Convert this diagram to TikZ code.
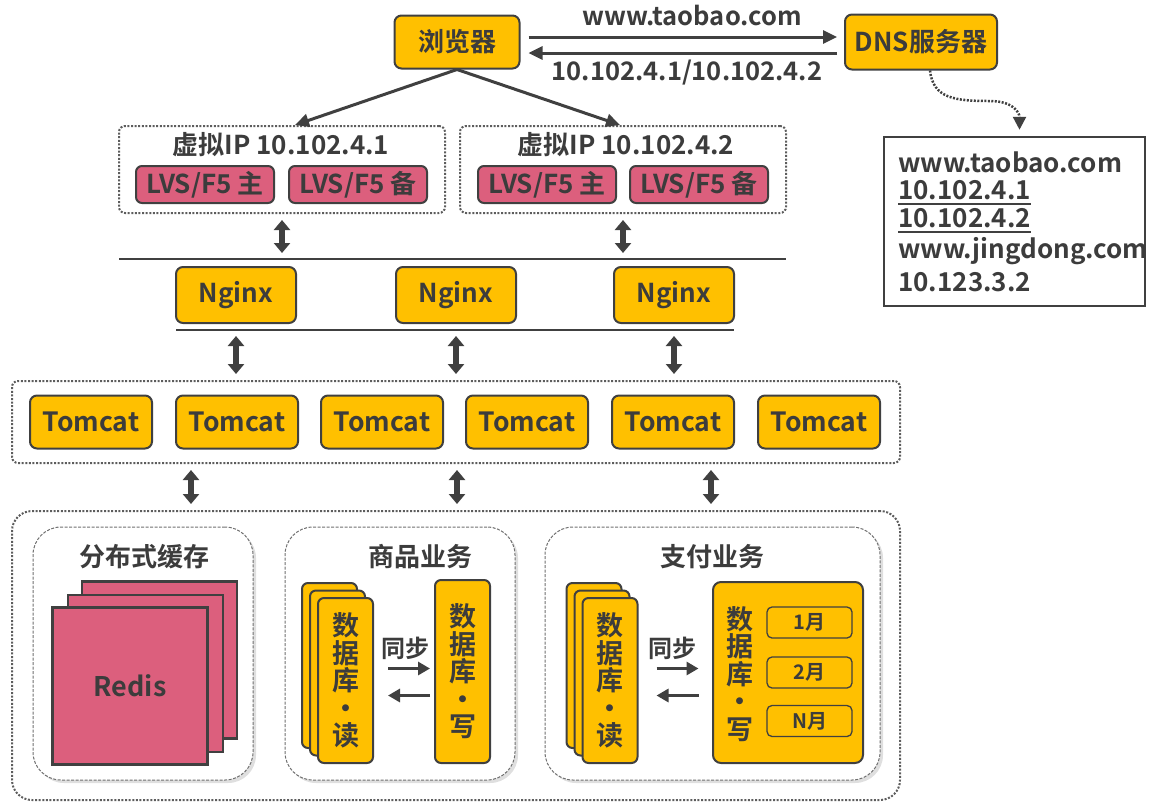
\documentclass[tikz,border=0pt]{standalone}
\usepackage{fontspec}
\setmainfont{Noto Sans CJK SC}[BoldFont={Noto Sans CJK SC Bold}]
\usetikzlibrary{arrows.meta, positioning, calc, shadows}
\definecolor{BoxYellow}{HTML}{FFC000}
\definecolor{BoxPink}{HTML}{DC5F7D}
\definecolor{LineGray}{HTML}{404040}
\definecolor{TextGray}{HTML}{3C3C3C}
\newcommand{\fsz}[1]{\fontsize{#1}{#1}\selectfont}
\tikzset{
    % Boxes
    yellowbox/.style={
        rectangle,
        rounded corners=7pt,
        draw=LineGray,
        fill=BoxYellow,
        line width=2pt,
        inner sep=0pt,
        align=center,
        text=TextGray
    },
    pinkbox/.style={
        rectangle,
        rounded corners=6pt,
        draw=LineGray,
        fill=BoxPink,
        line width=2pt,
        inner sep=0pt,
        minimum width=138pt,
        minimum height=37pt,
        font=\bfseries\fsz{26},
        text=TextGray
    },
    redis/.style={
        rectangle,
        draw=LineGray,
        fill=BoxPink,
        line width=2.5pt,
        inner sep=0pt,
        minimum width=155pt,
        minimum height=157pt,
        text=TextGray
    },
    monthbox/.style={
        rectangle,
        rounded corners=5pt,
        draw=LineGray,
        fill=BoxYellow,
        line width=1.3pt,
        inner sep=0pt,
        minimum width=85pt,
        minimum height=31pt,
        font=\bfseries\fsz{20},
        text=TextGray
    },
    % Groups
    group/.style={
        rectangle,
        rounded corners=6pt,
        draw=LineGray!85,
        line width=2pt,
        dash pattern=on 2pt off 1.6pt,
        inner sep=0pt
    },
    panel/.style={
        rectangle,
        rounded corners=28pt,
        draw=LineGray!75,
        fill=white,
        line width=1pt,
        dash pattern=on 3pt off 1.5pt,
        inner sep=0pt,
        drop shadow={shadow xshift=3pt, shadow yshift=-3pt, opacity=0.25}
    },
    label/.style={
        font=\bfseries\fsz{26},
        text=TextGray,
        inner sep=0pt
    },
    vtext/.style={
        font=\bfseries\fontsize{27}{27.5}\selectfont
    },
    % Arrows
    arrow/.style={
        -{Triangle[length=14pt, width=13pt]},
        line width=3pt,
        draw=LineGray
    },
    syncarrow/.style={
        -{Triangle[length=12pt, width=13pt]},
        line width=3.5pt,
        draw=LineGray
    },
    dblarrow/.style={
        {Triangle[length=10pt, width=16pt]}-{Triangle[length=10pt, width=16pt]},
        line width=5.5pt,
        draw=LineGray,
        shorten <=6pt,
        shorten >=6pt
    },
    dotarrow/.style={
        -{Triangle[length=13pt, width=13pt]},
        line width=2.5pt,
        draw=LineGray,
        dash pattern=on 2pt off 1.5pt
    },
    busline/.style={
        line width=2.5pt,
        draw=LineGray
    }
}

\begin{document}
\begin{tikzpicture}[x=1pt, y=-1pt]
    \useasboundingbox (0,0) rectangle (1166,807);

    % browser and DNS
    \node[yellowbox, minimum width=125pt, minimum height=53pt, font=\bfseries\fsz{26}] (browser) at (457,42) {浏览器};
    \node[yellowbox, minimum width=152pt, minimum height=55pt, font=\bfseries\fsz{26}] (dns) at (921,42) {DNS服务器};
    \draw[arrow] ([xshift=8pt, yshift=5pt]browser.east) -- ([xshift=-7pt, yshift=5pt]dns.west);
    \draw[arrow] ([xshift=-7pt, yshift=-11pt]dns.west) -- ([xshift=8pt, yshift=-11pt]browser.east);
    \node[label, font=\bfseries\fsz{25.5}] (url) at (692,15) {www.taobao.com};
    \node[label, font=\bfseries\fsz{25.5}] (ips) at (687,73) {10.102.4.1/10.102.4.2};

    % DNS table
    \node[draw=LineGray, line width=2.5pt, minimum width=261pt, minimum height=169pt, inner sep=0pt] (dnstab) at (1014.5,221.5) {};
    \node[label, anchor=west] (r1) at (898,162) {www.taobao.com};
    \node[label, anchor=west, inner ysep=4pt] (r2) at (898,190) {10.102.4.1};
    \node[label, anchor=west, inner ysep=4pt] (r3) at (898,218) {10.102.4.2};
    \node[label, anchor=west] (r4) at (898,251) {www.jingdong.com};
    \node[label, anchor=west] (r5) at (898,282) {10.123.3.2};
    \draw[line width=1.5pt, draw=LineGray] (r2.south west) -- (r2.south east);
    \draw[line width=1.5pt, draw=LineGray] (r3.south west) -- (r3.south east);
    \coordinate (bend) at (990,101);
    \draw[dotarrow] ([xshift=9pt]dns.south) .. controls +(3,28) and +(-35,0) .. (bend)
        .. controls +(22,0) and +(0,-18) .. ([xshift=5pt, yshift=6pt]dnstab.north);

    % virtual IP groups
    \node[group, minimum width=326pt, minimum height=87pt] (vip1) at (282,169.5) {};
    \node[group, minimum width=326pt, minimum height=87pt] (vip2) at (623,169.5) {};
    \node[label] (vip1t) at (281,145) {虚拟IP 10.102.4.1};
    \node[label] (vip2t) at (626,145) {虚拟IP 10.102.4.2};
    \node[pinkbox] (lvs1) at (205,184.5) {LVS/F5 主};
    \node[pinkbox] (lvs2) at (358,184.5) {LVS/F5 备};
    \node[pinkbox] (lvs3) at (547,184.5) {LVS/F5 主};
    \node[pinkbox] (lvs4) at (699,184.5) {LVS/F5 备};
    \draw[arrow] (browser.south) -- ([xshift=13pt]vip1.north);
    \draw[arrow] (browser.south) -- ([xshift=-3pt]vip2.north);

    % nginx layer
    \coordinate (busL) at (119,259);
    \coordinate (busR) at (786,259);
    \draw[busline] (busL) -- (busR);
    \draw[dblarrow] (vip1.south) -- (vip1.south |- busL);
    \draw[dblarrow] (vip2.south) -- (vip2.south |- busL);
    \node[yellowbox, minimum width=120pt, minimum height=56pt, font=\bfseries\fsz{26}] (ngx1) at (236,295) {Nginx};
    \node[yellowbox, minimum width=120pt, minimum height=56pt, font=\bfseries\fsz{26}] (ngx2) at (456,295) {Nginx};
    \node[yellowbox, minimum width=120pt, minimum height=56pt, font=\bfseries\fsz{26}] (ngx3) at (674,295) {Nginx};
    \coordinate (bus2L) at (176,330);
    \coordinate (bus2R) at (734,330);
    \draw[busline] (bus2L) -- (bus2R);

    % tomcat layer
    \node[group, minimum width=888pt, minimum height=82pt] (tcgroup) at (456,422) {};
    \foreach \i/\x in {1/91,2/237,3/382,4/527,5/673,6/819}
        \node[yellowbox, minimum width=122pt, minimum height=53pt, font=\bfseries\fsz{26.5}] (tc\i) at (\x,422) {Tomcat};
    \draw[dblarrow] (ngx1.south |- bus2L) -- (ngx1.south |- tcgroup.north);
    \draw[dblarrow] (ngx2.south |- bus2L) -- (ngx2.south |- tcgroup.north);
    \draw[dblarrow] (ngx3.south |- bus2L) -- (ngx3.south |- tcgroup.north);

    % storage layer
    \node[group, rounded corners=20pt, minimum width=888pt, minimum height=289pt] (store) at (456,655.5) {};
    \coordinate (d1) at (191,490);
    \coordinate (d2) at (457,490);
    \coordinate (d3) at (711,490);
    \draw[dblarrow] (d1 |- tcgroup.south) -- (d1 |- store.north);
    \draw[dblarrow] (d2 |- tcgroup.south) -- (d2 |- store.north);
    \draw[dblarrow] (d3 |- tcgroup.south) -- (d3 |- store.north);

    \node[panel, minimum width=220pt, minimum height=253pt] (cache) at (143,653.5) {};
    \node[panel, minimum width=230pt, minimum height=253pt] (goods) at (400,653.5) {};
    \node[panel, minimum width=335pt, minimum height=253pt] (pay) at (712.5,653.5) {};
    \node[label] (cachet) at (144,557) {分布式缓存};
    \node[label] (goodst) at (420,557) {商品业务};
    \node[label] (payt) at (712,557) {支付业务};

    % redis stack
    \node[redis] (rds3) at (159.5,660) {};
    \node[redis] (rds2) at (145.5,673.5) {};
    \node[redis, font=\bfseries\fsz{27}] (rds1) at (130,686) {Redis};

    % goods databases
    \node[yellowbox, rounded corners=6pt, minimum width=55pt, minimum height=165pt] (rd1c) at (329.5,665.5) {};
    \node[yellowbox, rounded corners=6pt, minimum width=55pt, minimum height=165pt] (rd1b) at (337.5,673) {};
    \node[yellowbox, vtext, rounded corners=6pt, minimum width=55pt, minimum height=165pt] (rd1) at (345.5,680.5) {数\\据\\库\\·\\读};
    \node[yellowbox, vtext, rounded corners=6pt, minimum width=55pt, minimum height=183pt] (wr1) at (462.5,671.5) {数\\据\\库\\·\\写};
    \node[label, font=\bfseries\fsz{24}] (sync1) at (405,648) {同步};
    \draw[syncarrow] ($(rd1.east)+(14,-12)$) -- ($(rd1.east)+(56,-12)$);
    \draw[syncarrow] ($(rd1.east)+(56,15)$) -- ($(rd1.east)+(14,15)$);

    % pay databases
    \node[yellowbox, rounded corners=6pt, minimum width=55pt, minimum height=165pt] (rd2c) at (594,665.5) {};
    \node[yellowbox, rounded corners=6pt, minimum width=55pt, minimum height=165pt] (rd2b) at (602,673) {};
    \node[yellowbox, vtext, rounded corners=6pt, minimum width=55pt, minimum height=165pt] (rd2) at (610,680.5) {数\\据\\库\\·\\读};
    \node[yellowbox, rounded corners=8pt, minimum width=150pt, minimum height=181pt] (wr2) at (788,672.5) {};
    \node[label, vtext, align=center] (wr2t) at (740,674) {数\\据\\库\\·\\写};
    \node[monthbox] (m1) at (809.5,622.5) {1月};
    \node[monthbox] (m2) at (809.5,672.5) {2月};
    \node[monthbox] (mn) at (809.5,721) {N月};
    \node[label, font=\bfseries\fsz{24}] (sync2) at (672,648) {同步};
    \draw[syncarrow] ($(rd2.east)+(18,-12)$) -- ($(rd2.east)+(60,-12)$);
    \draw[syncarrow] ($(rd2.east)+(60,15)$) -- ($(rd2.east)+(18,15)$);
\end{tikzpicture}
\end{document}
